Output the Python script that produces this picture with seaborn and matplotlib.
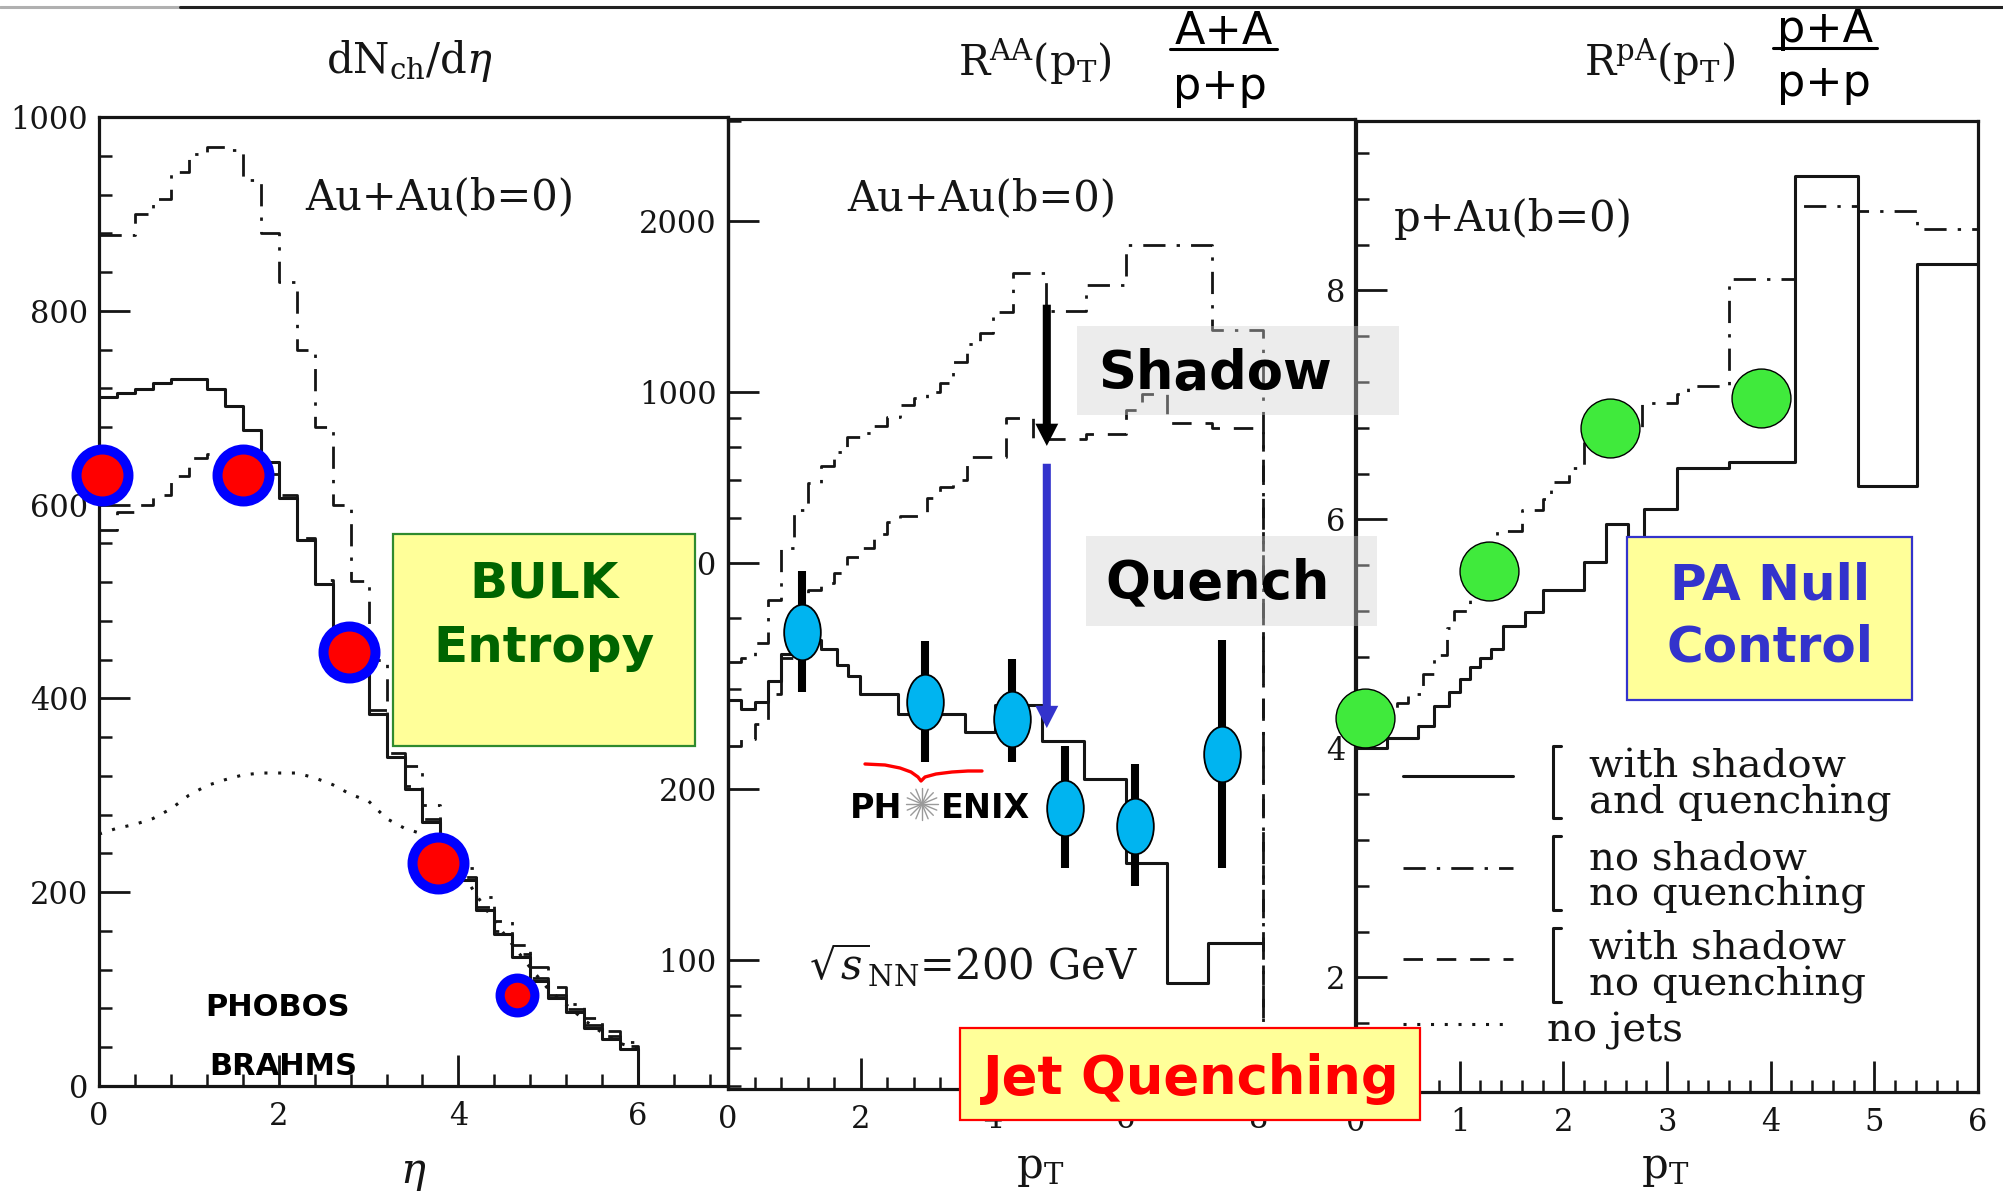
import matplotlib
matplotlib.use("Agg")
import matplotlib.pyplot as plt
import matplotlib.ticker as mticker
from matplotlib.path import Path
from matplotlib.patches import Rectangle
import numpy as np
import pandas as pd
import seaborn as sns

# ---------------- panel 1: dN_ch/deta, Au+Au (b=0) ----------------
eta_edges = [0.0, 0.2, 0.4, 0.6, 0.8, 1.0, 1.2, 1.4, 1.6, 1.8, 2.0,
             2.2, 2.4, 2.6, 2.8, 3.0, 3.2, 3.4, 3.6, 3.8, 4.0,
             4.2, 4.4, 4.6, 4.8, 5.0, 5.2, 5.4, 5.6, 5.8, 6.0]
dndeta_shadow_quench = [711, 715, 719, 726, 730, 730, 719, 702, 677, 644,
                        607, 563, 518, 470, 430, 384, 340, 306, 272, 240,
                        213, 182, 157, 133, 108, 91, 76, 60, 49, 38]
dndeta_noshadow_noquench = [878, 878, 900, 915, 943, 962, 969, 966, 935, 880,
                            830, 760, 680, 600, 521, 440, 380, 330, 290, 255,
                            225, 195, 170, 145, 123, 102, 85, 70, 57, 45]
dndeta_shadow_noquench = [574, 592, 600, 610, 630, 648, 652, 650, 645, 632,
                          610, 566, 522, 474, 432, 388, 344, 310, 276, 244,
                          216, 185, 160, 136, 111, 94, 79, 63, 52, 41]
eta_nojets = [0.0, 0.2, 0.4, 0.6, 0.8, 1.0, 1.2, 1.4, 1.6, 1.8, 2.0,
              2.2, 2.4, 2.6, 2.8, 3.0, 3.2, 3.4, 3.6, 3.8, 4.0,
              4.2, 4.4, 4.6, 4.8, 5.0, 5.2, 5.4, 5.6, 5.8, 6.0]
dndeta_nojets = [260, 266, 270, 276, 286, 300, 310, 316, 321, 323, 323,
                 323, 318, 311, 301, 294, 276, 266, 260, 250, 226,
                 197, 170, 146, 122, 100, 84, 68, 55, 44, 38]
eta_meas = [0.03, 1.6, 2.78, 3.77]
dndeta_meas = [631, 631, 448, 230]
eta_meas_fwd = [4.65]
dndeta_meas_fwd = [94]

# ---------------- panel 2: R_AA(pT), Au+Au (b=0) ----------------
pt_edges_sq = [0.0, 0.2, 0.4, 0.6, 0.8, 1.0, 1.2, 1.4, 1.64, 1.81, 1.99,
               2.57, 3.57, 4.03, 4.74, 5.37, 6.0, 6.62, 7.24, 8.07]
raa_shadow_quench = [287, 276, 285, 310, 345, 372, 366, 352, 330, 316,
                     294, 271, 252, 281, 243, 208, 148, 91, 107]
pt_edges_nsnq = [0.0, 0.2, 0.4, 0.6, 0.8, 1.0, 1.2, 1.4, 1.6, 1.8, 2.0,
                 2.2, 2.4, 2.6, 2.8, 3.0, 3.2, 3.4, 3.6, 3.8, 4.0,
                 4.3, 4.8, 5.4, 6.0, 7.3, 8.07]
raa_noshadow_noquench = [335, 340, 362, 430, 530, 620, 690, 740, 785, 834,
                         845, 870, 902, 948, 975, 1000, 1035, 1130, 1215, 1267,
                         1380, 1620, 1390, 1540, 1810, 1285]
pt_edges_snq = [0.0, 0.2, 0.4, 0.6, 0.8, 1.0, 1.2, 1.4, 1.6, 1.8, 2.0,
                2.2, 2.4, 2.6, 3.0, 3.2, 3.4, 3.6, 4.2, 4.6, 5.4,
                6.0, 6.25, 6.62, 7.3, 8.07]
raa_shadow_noquench = [238, 245, 260, 294, 340, 400, 447, 460, 480, 513,
                       530, 563, 590, 605, 651, 681, 700, 769, 900, 826,
                       843, 930, 990, 882, 862]
pt_phenix = [1.12, 2.97, 4.28, 5.08, 6.14, 7.46]
raa_phenix = [378, 285, 266, 185, 172, 230]
raa_phenix_lo = [296, 223, 223, 145, 135, 145]
raa_phenix_hi = [484, 365, 339, 238, 221, 366]
pt_arrow = 4.81
shadow_from, shadow_to = 1423, 803
quench_from, quench_to = 747, 256
raa_ticks = [100, 200, 500, 1000, 2000]

# ---------------- panel 3: R_pA(pT), p+Au (b=0) ----------------
pa_edges_sq = [0.0, 0.3, 0.6, 0.75, 0.9, 1.0, 1.1, 1.2, 1.3, 1.42, 1.63,
               1.8, 2.2, 2.41, 2.62, 2.78, 3.1, 3.6, 4.23, 4.84, 5.41, 6.0]
rpa_shadow_quench = [4.0, 4.09, 4.2, 4.37, 4.49, 4.61, 4.71, 4.79, 4.87, 5.07,
                     5.19, 5.38, 5.63, 5.96, 5.55, 6.09, 6.45, 6.5, 9.0, 6.29, 8.23]
pa_edges_nsnq = [0.0, 0.4, 0.5, 0.65, 0.75, 0.88, 0.95, 1.1, 1.36, 1.6, 1.8,
                 1.88, 2.05, 2.2, 2.76, 3.1, 3.2, 3.6, 4.23, 4.84, 5.41, 6.0]
rpa_noshadow_noquench = [4.3, 4.4, 4.48, 4.65, 4.82, 5.05, 5.2, 5.5, 5.9, 6.08,
                         6.18, 6.33, 6.45, 6.75, 7.02, 7.1, 7.17, 8.1, 8.74, 8.69, 8.54]
pt_pa = [0.09, 1.28, 2.45, 3.91]
rpa_pa = [4.27, 5.55, 6.8, 7.06]

legend_labels = ["with shadow\nand quenching",
                 "no shadow\nno quenching",
                 "with shadow\nno quenching",
                 "no jets"]

# ---------------- style ----------------
sns.set_theme(style="ticks")
plt.rcParams["font.family"] = ["DejaVu Serif"]
plt.rcParams["mathtext.fontset"] = "dejavuserif"

INK = "#151515"
SOLID = dict(linestyle="-", linewidth=2.2)
DASHDOT = dict(linestyle=(0, (8, 4, 1.2, 4)), linewidth=2.0)
DASHED = dict(linestyle=(0, (7, 5)), linewidth=2.0)
DOTTED = dict(linestyle=(0, (1, 3.5)), linewidth=2.2)

W, H = 2003, 1191
fig = plt.figure(figsize=(W / 100, H / 100), dpi=100)
fig.patch.set_facecolor("white")


def px_axes(x0, x1, y0, y1):
    return fig.add_axes([x0 / W, 1 - y1 / H, (x1 - x0) / W, (y1 - y0) / H])


def draw_steps(ax, edges, values, drop_to=None, **style):
    xs, ys = [], []
    for lo, hi, v in zip(edges[:-1], edges[1:], values):
        xs += [lo, hi]
        ys += [v, v]
    if drop_to is not None:
        xs.append(edges[-1])
        ys.append(drop_to)
    frame = pd.DataFrame({"x": xs, "y": ys})
    sns.lineplot(data=frame, x="x", y="y", ax=ax, estimator=None, sort=False,
                 color=INK, **style)


def style_axes(ax):
    ax.set_facecolor("none")
    for s in ax.spines.values():
        s.set_visible(True)
        s.set_linewidth(2.3)
        s.set_color(INK)
    ax.tick_params(which="major", direction="in", length=22, width=2, color=INK,
                   labelsize=22, labelcolor=INK, pad=8, top=False, right=False)
    ax.tick_params(which="minor", direction="in", length=9, width=1.8, color=INK,
                   top=False, right=False)
    ax.tick_params(axis="x", which="major", pad=11)
    ax.set_xlabel("")
    ax.set_ylabel("")


ax1 = px_axes(99, 728, 117, 1086)
ax2 = px_axes(728, 1355, 119, 1089)
ax3 = px_axes(1356, 1978, 121, 1092)

# ---- panel 1 ----
draw_steps(ax1, eta_edges, dndeta_noshadow_noquench, drop_to=0, **DASHDOT)
draw_steps(ax1, eta_edges, dndeta_shadow_noquench, drop_to=0, **DASHED)
draw_steps(ax1, eta_edges, dndeta_shadow_quench, drop_to=0, **SOLID)
sns.lineplot(x=eta_nojets, y=dndeta_nojets, ax=ax1, color=INK, **DOTTED)
ax1.plot(eta_meas, dndeta_meas, linestyle="none", marker="o", ms=37.4, mew=7.2,
         mfc="#FF0000", mec="#0000FF", zorder=6, clip_on=False)
ax1.plot(eta_meas_fwd, dndeta_meas_fwd, linestyle="none", marker="o", ms=25, mew=6.6,
         mfc="#FF0000", mec="#0000FF", zorder=6, clip_on=False)
ax1.set_xlim(0, 7)
ax1.set_ylim(0, 1000)
ax1.xaxis.set_major_locator(mticker.FixedLocator([0, 2, 4, 6]))
ax1.xaxis.set_minor_locator(mticker.MultipleLocator(0.4))
ax1.yaxis.set_major_locator(mticker.FixedLocator([0, 200, 400, 600, 800, 1000]))
ax1.yaxis.set_minor_locator(mticker.MultipleLocator(40))
style_axes(ax1)

# ---- panel 2 ----
ax2.set_yscale("log")
draw_steps(ax2, pt_edges_nsnq, raa_noshadow_noquench, drop_to=30, **DASHDOT)
draw_steps(ax2, pt_edges_snq, raa_shadow_noquench, drop_to=30, **DASHED)
draw_steps(ax2, pt_edges_sq, raa_shadow_quench, **SOLID)
ax2.vlines(pt_phenix, raa_phenix_lo, raa_phenix_hi, colors="black", lw=5.8, zorder=4)
circ = Path.unit_circle()
ellipse = Path(circ.vertices * np.array([0.66, 1.0]), circ.codes)
ax2.plot(pt_phenix, raa_phenix, linestyle="none", marker=ellipse, ms=40,
         mfc="#00B4F0", mec="black", mew=1.3, zorder=5)
ax2.annotate("", xy=(pt_arrow, shadow_to), xytext=(pt_arrow, shadow_from),
             arrowprops=dict(arrowstyle="simple,head_length=16,head_width=16.5,tail_width=5.8",
                             fc="black", ec="black", lw=0, mutation_scale=1,
                             shrinkA=0, shrinkB=0), zorder=6)
ax2.annotate("", xy=(pt_arrow, quench_to), xytext=(pt_arrow, quench_from),
             arrowprops=dict(arrowstyle="simple,head_length=16,head_width=16.5,tail_width=5.8",
                             fc="#3333CC", ec="#3333CC", lw=0, mutation_scale=1,
                             shrinkA=0, shrinkB=0), zorder=6)
ax2.set_xlim(0, 9.46)
ax2.set_ylim(59.3, 3020)
ax2.xaxis.set_major_locator(mticker.FixedLocator([0, 2, 4, 6, 8]))
ax2.xaxis.set_minor_locator(mticker.MultipleLocator(0.4))
ax2.yaxis.set_major_locator(mticker.FixedLocator(raa_ticks))
ax2.yaxis.set_major_formatter(mticker.FixedFormatter([str(t) for t in raa_ticks]))
ax2.yaxis.set_minor_locator(mticker.FixedLocator([60, 70, 80, 90, 300, 400, 600, 700, 800, 900, 3000]))
ax2.yaxis.set_minor_formatter(mticker.NullFormatter())
style_axes(ax2)

# ---- panel 3 ----
draw_steps(ax3, pa_edges_nsnq, rpa_noshadow_noquench, **DASHDOT)
draw_steps(ax3, pa_edges_sq, rpa_shadow_quench, **SOLID)
ax3.plot(pt_pa, rpa_pa, linestyle="none", marker="o", ms=42.4, mew=1.0,
         mfc="#40EA3C", mec="black", zorder=6, clip_on=False)
ax3.set_xlim(0, 6)
ax3.set_ylim(1.0, 9.48)
ax3.xaxis.set_major_locator(mticker.FixedLocator([0, 1, 2, 3, 4, 5, 6]))
ax3.xaxis.set_minor_locator(mticker.MultipleLocator(0.2))
ax3.yaxis.set_major_locator(mticker.FixedLocator([2, 4, 6, 8]))
ax3.yaxis.set_minor_locator(mticker.MultipleLocator(0.4))
style_axes(ax3)

# ---------------- annotation layer in pixel coordinates ----------------
ov = fig.add_axes([0, 0, 1, 1], zorder=10)
ov.set_xlim(0, W)
ov.set_ylim(H, 0)
ov.axis("off")
ov.patch.set_alpha(0)

ov.plot([0, 180], [7, 7], color="#b0b0b0", lw=2.2)
ov.plot([180, W], [7, 7], color="#222222", lw=2.2)

# panel headings
ov.text(409, 73, r"$\mathrm{dN_{ch}/d}\eta$", fontsize=30, ha="center", va="baseline", color=INK)
ov.text(1035, 76, r"$\mathrm{R^{AA}(p_T)}$", fontsize=30, ha="center", va="baseline", color=INK)
ov.text(1660, 76, r"$\mathrm{R^{pA}(p_T)}$", fontsize=30, ha="center", va="baseline", color=INK)
sans = dict(family="DejaVu Sans", ha="center", va="baseline", color="black")
ov.text(1224, 44, "A+A", fontsize=32, **sans)
ov.plot([1170, 1277], [49, 49], color="black", lw=2.2)
ov.text(1220, 99, "p+p", fontsize=32, **sans)
ov.text(1825, 42, "p+A", fontsize=32, **sans)
ov.plot([1773, 1877], [48, 48], color="black", lw=2.2)
ov.text(1824, 96, "p+p", fontsize=32, **sans)

# axis titles
ov.text(413, 1183, r"$\eta$", fontsize=30, ha="center", va="baseline", color=INK)
ov.text(1040, 1178, r"$\mathrm{p_T}$", fontsize=30, ha="center", va="baseline", color=INK)
ov.text(1665, 1178, r"$\mathrm{p_T}$", fontsize=30, ha="center", va="baseline", color=INK)

# in-panel captions
ov.text(440, 209, "Au+Au(b=0)", fontsize=30, ha="center", va="baseline", color=INK)
ov.text(982, 210, "Au+Au(b=0)", fontsize=30, ha="center", va="baseline", color=INK)
ov.text(1513, 231, "p+Au(b=0)", fontsize=30, ha="center", va="baseline", color=INK)
ov.text(973, 979, r"$\sqrt{s}_{\mathrm{NN}}$=200 GeV", fontsize=30, ha="center",
        va="baseline", color=INK)

bold = dict(family="DejaVu Sans", weight="bold", ha="center", va="baseline")
ov.text(278, 1016, "PHOBOS", fontsize=22, color="black", **bold)
ov.text(283, 1075, "BRAHMS", fontsize=22, color="black", **bold)

# highlight boxes
ov.add_patch(Rectangle((393, 534), 302, 212, facecolor="#FFFF99", edgecolor="#2E8B2E", lw=1.6))
ov.text(544, 597, "BULK", fontsize=36, color="#006400", **bold)
ov.text(544, 662, "Entropy", fontsize=36, color="#006400", **bold)

ov.add_patch(Rectangle((1077, 326), 322, 89, facecolor=(0.82, 0.82, 0.82, 0.4), edgecolor="none"))
ov.text(1215, 389, "Shadow", fontsize=38, color="black", **bold)
ov.add_patch(Rectangle((1086, 536), 291, 90, facecolor=(0.82, 0.82, 0.82, 0.4), edgecolor="none"))
ov.text(1218, 598, "Quench", fontsize=38, color="black", **bold)

ov.add_patch(Rectangle((960, 1028), 460, 92, facecolor="#FFFF99", edgecolor="#FF0000", lw=1.6))
ov.text(1191, 1094, "Jet Quenching", fontsize=38, color="#FF0000", **bold)

ov.add_patch(Rectangle((1627, 537), 285, 163, facecolor="#FFFF99", edgecolor="#3333CC", lw=1.6))
ov.text(1770, 599, "PA Null", fontsize=36, color="#3333CC", **bold)
ov.text(1770, 662, "Control", fontsize=36, color="#3333CC", **bold)

# PHENIX logo
ov.text(902, 818, "PH", fontsize=24, family="DejaVu Sans", weight="bold",
        ha="right", va="baseline", color="black")
ov.text(941, 818, "ENIX", fontsize=24, family="DejaVu Sans", weight="bold",
        ha="left", va="baseline", color="black")
for ang in np.linspace(0, np.pi, 9)[:-1]:
    dx, dy = 16 * np.cos(ang), 16 * np.sin(ang)
    ov.plot([922 - dx, 922 + dx], [804 - dy, 804 + dy], color="#9a9a9a", lw=1.0)
ov.plot([865, 885, 900, 911, 918, 921, 925, 936, 952, 968, 982],
        [764, 765, 768, 772, 777, 781, 777, 774, 772, 771, 771], color="red", lw=2.4)

# legend of the curve styles
legend_styles = [SOLID, DASHDOT, DASHED, DOTTED]
legend_line_y = [776, 868, 959, 1024]
legend_text_top = [749, 841, 931, 1012]
brackets = [(746, 818), (836, 910), (928, 1002)]
for st, ly in zip(legend_styles, legend_line_y):
    ov.plot([1403, 1513], [ly, ly], color=INK, **st)
for (yt, yb) in brackets:
    ov.plot([1561, 1553, 1553, 1561], [yt, yt, yb, yb], color=INK, lw=2.2)
for i, (label, yt) in enumerate(zip(legend_labels, legend_text_top)):
    x0 = 1547 if i == 3 else 1589
    ov.text(x0, yt, label, fontsize=29, ha="left", va="top", color=INK,
            linespacing=0.92)

fig.savefig("out.png", dpi=100, facecolor="white")
